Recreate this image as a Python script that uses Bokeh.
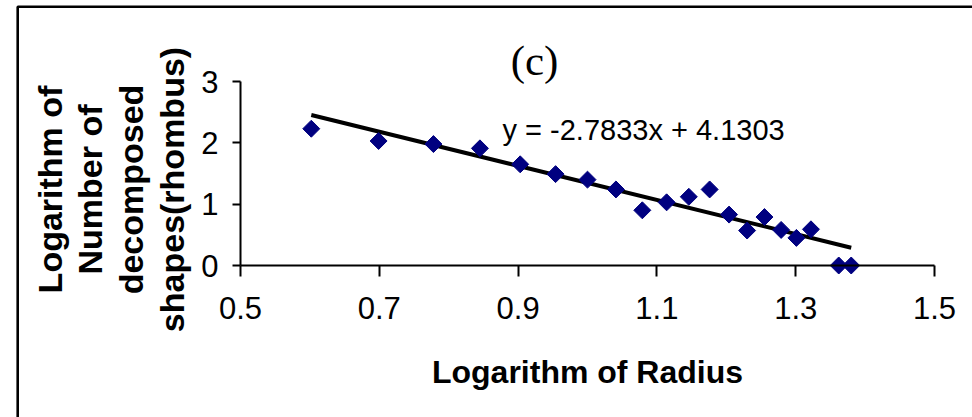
import math
from bokeh.plotting import figure
from bokeh.models import (Range1d, FixedTicker, Label, BoxAnnotation, ColumnDataSource,
                          LinearAxis)
from bokeh.embed import file_html
from bokeh.resources import INLINE

# ---- data ----
log_radius = [0.602, 0.699, 0.778, 0.845, 0.903, 0.954, 1.000, 1.041, 1.079, 1.114,
              1.146, 1.176, 1.204, 1.230, 1.255, 1.279, 1.301, 1.322, 1.362, 1.380]
log_count = [2.23, 2.03, 1.98, 1.91, 1.65, 1.49, 1.40, 1.24, 0.90, 1.03,
             1.12, 1.24, 0.83, 0.57, 0.79, 0.58, 0.45, 0.59, 0.0, 0.0]
trend_slope = -2.7833
trend_intercept = 4.1303
equation_text = "y = -2.7833x + 4.1303"
panel_label = "(c)"
x_title = "Logarithm of Radius"
y_title_lines = ["Logarithm of", "Number of", "decomposed", "shapes(rhombus)"]
x_ticks = [0.5, 0.7, 0.9, 1.1, 1.3, 1.5]
x_tick_labels = ["0.5", "0.7", "0.9", "1.1", "1.3", "1.5"]
y_ticks = [0, 1, 2, 3]
y_tick_labels = ["0", "1", "2", "3"]

W, H = 972, 417
# pixel positions of the axis corners in the picture
PX_L, PX_R, PY_T, PY_B = 240, 934, 81, 265
X0, X1, Y0, Y1 = 0.5, 1.5, 0.0, 3.0
SX = (X1 - X0) / (PX_R - PX_L)
SY = (Y1 - Y0) / (PY_B - PY_T)


def fx(px):
    return X0 + (px - PX_L) * SX


def fy(py):
    return Y0 + (PY_B - py) * SY


p = figure(width=W, height=H, output_backend="svg", toolbar_location=None,
           x_range=Range1d(fx(0), fx(W)), y_range=Range1d(fy(H), fy(0)),
           x_axis_location=None, y_axis_location=None,
           min_border=0)
p.background_fill_color = "white"
p.border_fill_color = "white"
p.outline_line_color = None
p.grid.visible = False

# outer frame of the picture (left and top edges visible)
p.add_layout(BoxAnnotation(left=fx(17.2), right=fx(W + 40), top=fy(6.2), bottom=fy(H + 40),
                           fill_alpha=0, line_color="black", line_alpha=1.0,
                           line_width=2.6))

font = "Liberation Sans"


def style_axis(ax):
    ax.axis_line_width = 2
    ax.axis_line_color = "black"
    ax.major_tick_line_width = 2
    ax.major_tick_line_color = "black"
    ax.major_tick_in = 0
    ax.minor_tick_line_color = None
    ax.major_label_text_font = font
    ax.major_label_text_font_size = "31px"
    ax.major_label_text_color = "black"


xax = LinearAxis(fixed_location=Y0, bounds=(X0, X1), ticker=FixedTicker(ticks=x_ticks),
                 major_label_overrides={t: l for t, l in zip(x_ticks, x_tick_labels)})
style_axis(xax)
xax.major_tick_out = 11
xax.major_label_standoff = 20
p.add_layout(xax, "below")

yax = LinearAxis(fixed_location=X0, bounds=(Y0, Y1), ticker=FixedTicker(ticks=y_ticks),
                 major_label_overrides={t: l for t, l in zip(y_ticks, y_tick_labels)})
style_axis(yax)
yax.major_tick_out = 8
yax.major_label_standoff = 14
p.add_layout(yax, "left")

# trend line
tx = [log_radius[0], log_radius[-1]]
ty = [trend_slope * v + trend_intercept for v in tx]
p.line(tx, ty, line_color="black", line_width=4)

# points
src = ColumnDataSource(dict(x=log_radius, y=log_count))
p.scatter("x", "y", source=src, marker="square", angle=math.pi / 4, size=12,
          fill_color="#000080", line_color="#000080")

# texts (baselines in px, corrected for Bokeh's label placement)
DY = 12
p.add_layout(Label(x=fx(534), y=fy(72 - DY), text=panel_label, text_font="Liberation Serif",
                   text_font_size="43px", text_align="center", text_baseline="alphabetic",
                   text_color="black"))
p.add_layout(Label(x=fx(502), y=fy(141 - DY), text=equation_text, text_font=font,
                   text_font_size="29px", text_align="left", text_baseline="alphabetic",
                   text_color="black"))
p.add_layout(Label(x=fx(587), y=fy(383 - DY), text=x_title, text_font=font,
                   text_font_size="32px", text_font_style="bold", text_align="center",
                   text_baseline="alphabetic", text_color="black"))
for line, bx in zip(y_title_lines, [61, 101, 142, 183]):
    p.add_layout(Label(x=fx(bx - DY), y=fy(189), text=line, text_font=font,
                       text_font_size="34px", text_font_style="bold", angle=math.pi / 2,
                       text_align="center", text_baseline="alphabetic", text_color="black"))

open("out.html", "w").write(file_html(p, INLINE))
